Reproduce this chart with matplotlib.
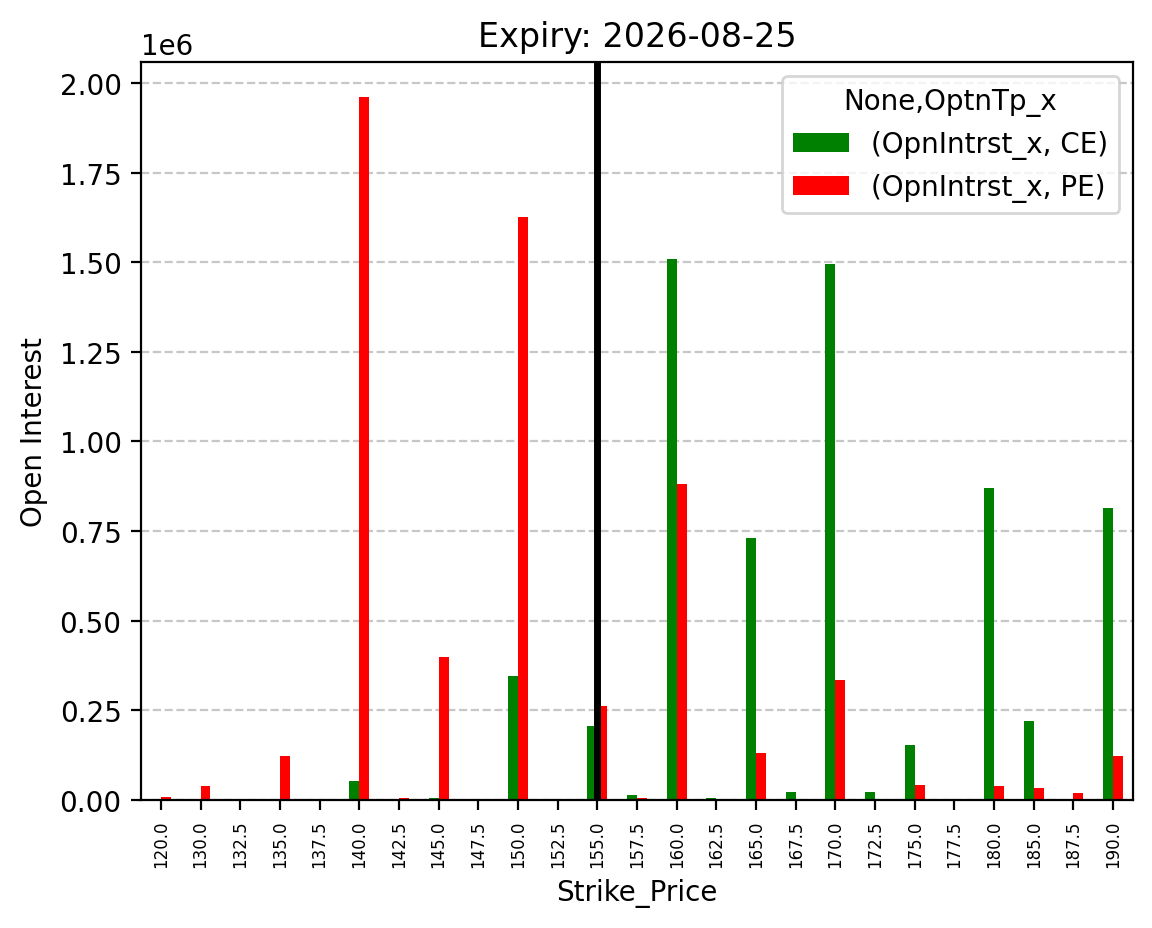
import matplotlib
matplotlib.use("Agg")
import matplotlib.pyplot as plt
import pandas as pd

strikes = [120.0, 130.0, 132.5, 135.0, 137.5, 140.0, 142.5, 145.0, 147.5, 150.0, 152.5,
           155.0, 157.5, 160.0, 162.5, 165.0, 167.5, 170.0, 172.5, 175.0, 177.5, 180.0,
           185.0, 187.5, 190.0]
ce_oi = [0, 0, 0, 0, 0, 53000, 0, 5000, 0, 345000, 0,
         205000, 15000, 1510000, 5000, 730000, 22000, 1495000, 22000, 153000, 0, 870000,
         220000, 0, 815000]
pe_oi = [8000, 39000, 0, 122000, 0, 1960000, 5000, 400000, 0, 1625000, 0,
         262000, 5000, 880000, 0, 130000, 0, 335000, 0, 42000, 0, 39000,
         33000, 19000, 122000]
spot_strike = 155.0
expiry = "2026-08-25"

cols = pd.MultiIndex.from_tuples([("OpnIntrst_x", "CE"), ("OpnIntrst_x", "PE")],
                                 names=[None, "OptnTp_x"])
df = pd.DataFrame(list(zip(ce_oi, pe_oi)), index=pd.Index(strikes, name="Strike_Price"),
                  columns=cols)

fig, ax = plt.subplots(figsize=(5.76, 4.645), dpi=200)
df.plot(kind="bar", ax=ax, color=["green", "red"])
ax.axvline(strikes.index(spot_strike), color="black", linewidth=2.5)
ax.set_title(f"Expiry: {expiry}")
ax.set_xlabel("Strike_Price")
ax.set_ylabel("Open Interest")
ax.tick_params(axis="x", labelsize=6, rotation=90)
ax.grid(axis="y", linestyle="--", alpha=0.7)
ax.set_axisbelow(True)
fig.subplots_adjust(left=0.1224, right=0.9835, top=0.932, bottom=0.1378)
fig.savefig("out.png", dpi=200)
